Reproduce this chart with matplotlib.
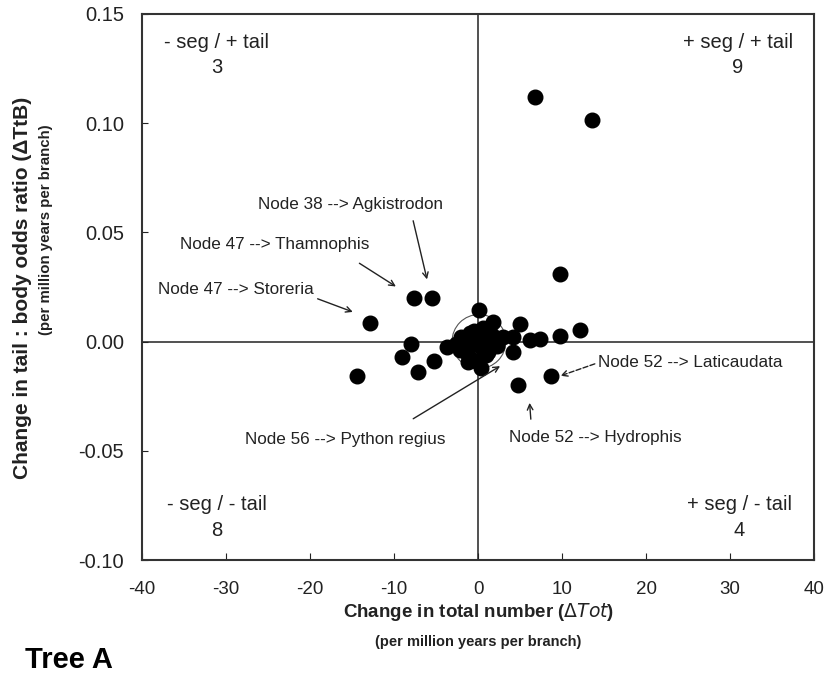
import matplotlib
matplotlib.use("Agg")
import matplotlib.pyplot as plt
from matplotlib.patches import Ellipse

plt.rcParams['font.family'] = ['Liberation Sans', 'DejaVu Sans']
plt.rcParams['axes.unicode_minus'] = False

# change in total number (x) and change in tail:body odds ratio (y)
d_tot = [6.8, 13.5, 9.8, -7.6, -5.5, -12.9, -14.4,
         0.1, 1.8, 5.0, 12.1, 9.8, 7.4, 6.2, 4.2, 4.2, 3.0,
         -8.0, -9.1, -5.3, -7.1, -3.7, 4.8, 8.7,
         -2.0, -1.5, -1.0, -0.5, 0.0, 0.5, -1.2, -0.3, 1.0, -2.2,
         0.3, -0.8, 1.2, -1.6, 0.6, 2.2, 1.6, -0.2, -2.6, -1.2, 1.0]
d_ttb = [0.112, 0.1015, 0.031, 0.020, 0.020, 0.0085, -0.0158,
         0.0145, 0.009, 0.008, 0.0053, 0.0026, 0.001, 0.0007, 0.002, -0.005, 0.002,
         -0.001, -0.007, -0.009, -0.014, -0.0025, -0.0199, -0.0157,
         0.002, -0.002, 0.004, 0.005, 0.003, -0.003, -0.006, -0.009, 0.001, -0.004,
         -0.012, -0.008, -0.005, 0.0, 0.006, -0.002, 0.003, -0.001, -0.001, -0.0093, -0.006]

quad_names = ["- seg / + tail", "+ seg / + tail", "- seg / - tail", "+ seg / - tail"]
quad_counts = ["3", "9", "8", "4"]
quad_x = [-31.1, 30.9, -31.1, 31.1]
quad_y = [0.137, 0.137, -0.0748, -0.0748]

# annotations: text, text position, arrow tail, arrow head
notes = [
    ("Node 38 --> Agkistrodon", (-15.2, 0.0625), (-7.8, 0.0565), (-6.0, 0.0272)),
    ("Node 47 --> Thamnophis", (-24.2, 0.0442), (-14.4, 0.0365), (-9.5, 0.0245)),
    ("Node 47 --> Storeria", (-28.8, 0.0236), (-19.4, 0.020), (-14.6, 0.0131)),
    ("Node 56 --> Python regius", (-15.8, -0.0447), (-8.0, -0.0360), (2.9, -0.0106)),
    ("Node 52 --> Hydrophis", (13.9, -0.0440), (6.3, -0.0368), (6.1, -0.0268)),
]
lati_text = "Node 52 --> Laticaudata"

fig = plt.figure(figsize=(8.25, 6.88), dpi=100)
ax = fig.add_axes([0.172, 0.186, 0.815, 0.794])

ax.axhline(0, color='#333333', lw=1.2, zorder=1)
ax.axvline(0, color='#333333', lw=1.2, zorder=1)
ax.add_patch(Ellipse((0.1, 0.0), 6.4, 0.0247, fill=False, ec='#555555', lw=0.8, zorder=2))

ax.plot(d_tot, d_ttb, 'o', color='black', ms=10.5, zorder=3)

for name, cnt, qx, qy in zip(quad_names, quad_counts, quad_x, quad_y):
    ax.text(qx, qy, name, ha='center', va='center', fontsize=14.5, color='#222222')
    ax.text(qx, qy - 0.0115, cnt, ha='center', va='center', fontsize=14.5, color='#222222')

for txt, tpos, tail, head in notes:
    ax.text(tpos[0], tpos[1], txt, ha='center', va='center', fontsize=12.3, color='#222222')
    ax.annotate('', xy=head, xytext=tail,
                arrowprops=dict(arrowstyle='->', color='#222222', lw=1.0))
ax.text(14.3, -0.0098, lati_text, ha='left', va='center', fontsize=12.3, color='#222222')
ax.annotate('', xy=(9.5, -0.0161), xytext=(14.2, -0.0098),
            arrowprops=dict(arrowstyle='->', color='#222222', lw=1.0, linestyle='--'))

ax.set_xlim(-40, 40)
ax.set_ylim(-0.10, 0.15)
ax.set_xticks(range(-40, 41, 10))
ax.set_yticks([-0.10, -0.05, 0.00, 0.05, 0.10, 0.15])
ax.set_yticklabels(["-0.10", "-0.05", "0.00", "0.05", "0.10", "0.15"])
ax.tick_params(axis='y', direction='in', length=4, labelsize=14.5, pad=13, colors='#222222')
ax.tick_params(axis='x', direction='in', length=5, labelsize=13.5, pad=15, colors='#222222')
for s in ax.spines.values():
    s.set_linewidth(1.5)
    s.set_color('#333333')

fig.text(0.027, 0.581, "Change in tail : body odds ratio (\u0394TtB)", rotation=90,
         ha='center', va='center', fontsize=15, fontweight='bold', color='#222222')
fig.text(0.056, 0.666, "(per million years per branch)", rotation=90,
         ha='center', va='center', fontsize=10.8, fontweight='bold', color='#222222')
fig.text(0.58, 0.110, r"Change in total number ($\Delta$$\mathit{Tot}$)",
         ha='center', va='center', fontsize=13.5, fontweight='bold', color='#222222')
fig.text(0.58, 0.067, "(per million years per branch)",
         ha='center', va='center', fontsize=10.5, fontweight='bold', color='#222222')
fig.text(0.030, 0.040, "Tree A", ha='left', va='center', fontsize=21,
         fontweight='bold', color='black')

fig.savefig("out.png", dpi=100)
